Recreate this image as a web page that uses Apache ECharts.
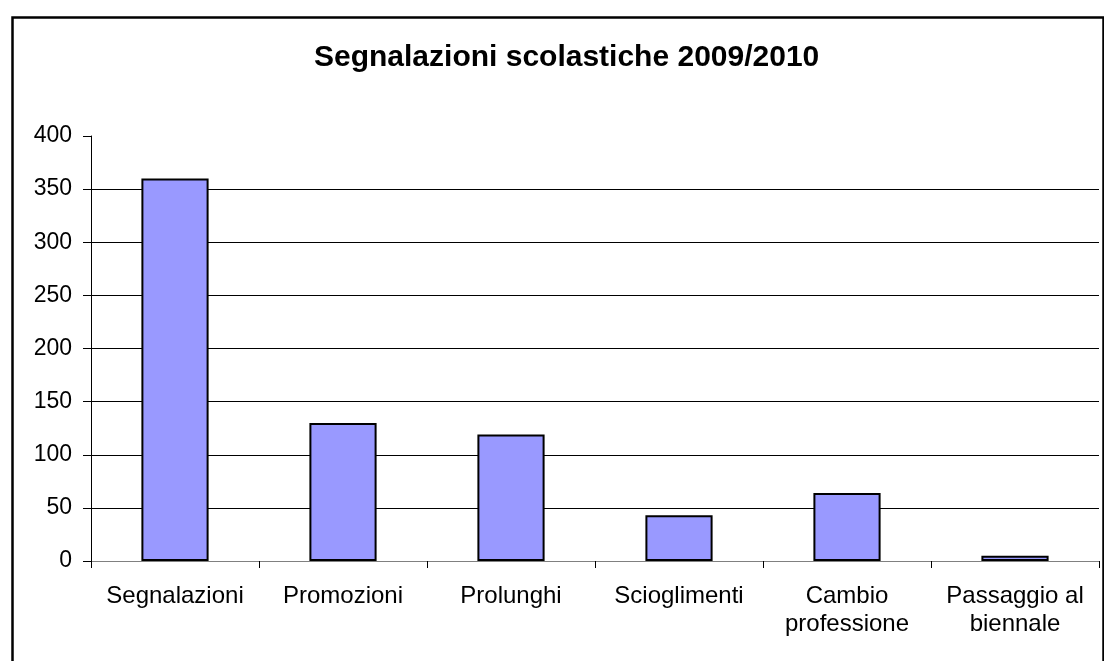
<!DOCTYPE html>
<html>
<head>
<meta charset="utf-8">
<script src="https://cdn.jsdelivr.net/npm/echarts@6/dist/echarts.min.js"></script>
<style>
  html, body { margin: 0; padding: 0; background: #fff; }
  #chart { width: 1104px; height: 661px; }
</style>
</head>
<body>
<div id="chart"></div>
<script>
var categories = ['Segnalazioni', 'Promozioni', 'Prolunghi', 'Scioglimenti', 'Cambio\nprofessione', 'Passaggio al\nbiennale'];
var values = [360, 130, 119, 43, 64, 5];
var yTicks = { min: 0, max: 400, interval: 50 };

var myChart = echarts.init(document.getElementById('chart'));

var option = {
    backgroundColor: '#fff',
    animation: false,
    textStyle: { fontFamily: 'Liberation Sans, Arial, sans-serif' },
    graphic: [
        {
            type: 'rect',
            left: 10, top: 15,
            shape: { width: 1091, height: 700 },
            style: { fill: 'none', stroke: '#000', lineWidth: 2.5 },
            silent: true
        }
    ],
    title: {
        text: 'Segnalazioni scolastiche 2009/2010',
        left: 309,
        top: 38,
        textStyle: { fontSize: 30, fontWeight: 'bold', color: '#000', fontFamily: 'Liberation Sans, Arial, sans-serif' }
    },
    grid: { left: 91, right: 5, top: 136, bottom: 100, containLabel: false },
    xAxis: {
        type: 'category',
        data: categories,
        axisLine: { lineStyle: { color: '#808080', width: 1 } },
        axisTick: { show: true, alignWithLabel: false, length: 7, lineStyle: { color: '#000' } },
        axisLabel: { color: '#000', fontSize: 24, lineHeight: 28, margin: 21, interval: 0 }
    },
    yAxis: {
        type: 'value',
        min: yTicks.min, max: yTicks.max, interval: yTicks.interval,
        axisLine: { show: true, lineStyle: { color: '#000', width: 1 } },
        axisTick: { show: true, length: 8, lineStyle: { color: '#000' } },
        axisLabel: { color: '#000', fontSize: 23, margin: 19 },
        splitLine: { show: true, showMaxLine: false, lineStyle: { color: '#000', width: 1 } }
    },
    series: [
        {
            type: 'bar',
            data: values,
            barWidth: '40%',
            itemStyle: { color: '#9999FF', borderColor: '#000', borderWidth: 2 }
        }
    ]
};

myChart.setOption(option, true);
</script>
</body>
</html>
